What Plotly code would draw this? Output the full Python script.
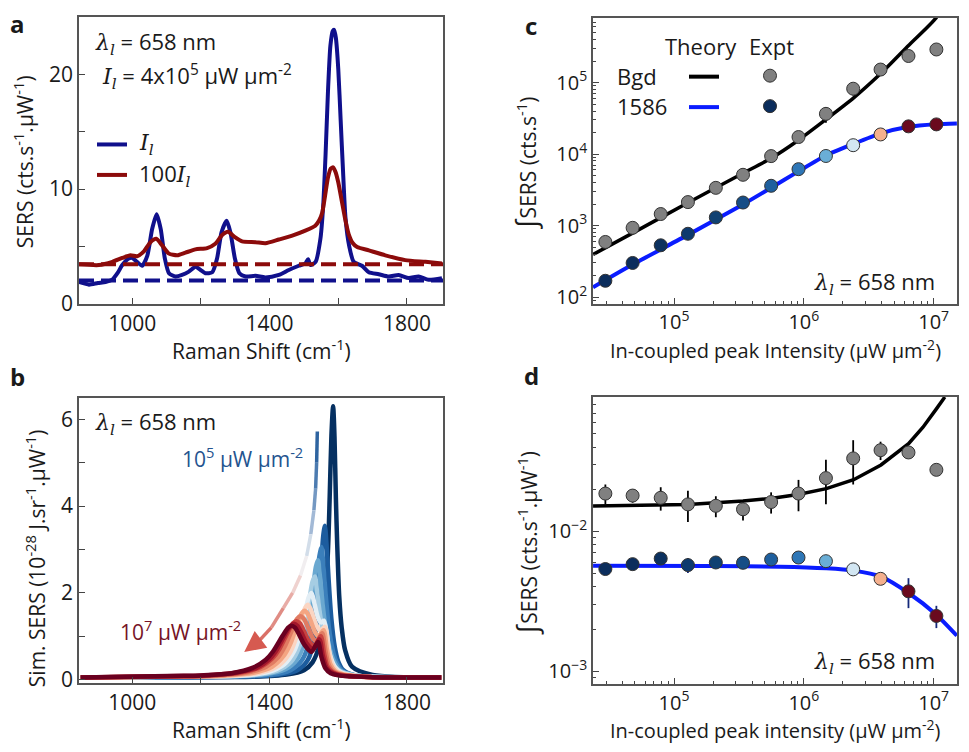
import plotly.graph_objects as go

# ---------------- data ----------------
# panel a: measured spectra
a_blue_x = [845, 874, 900, 922, 942, 958, 971, 990, 1000, 1014, 1029, 1044, 1058, 1071, 1083, 1095, 1107, 1126,
            1145, 1165, 1184, 1199, 1213, 1233, 1247, 1260, 1275, 1286, 1299, 1312, 1330, 1359, 1388, 1427, 1456,
            1485, 1504, 1512, 1519, 1534, 1548, 1556, 1563, 1570, 1577, 1584, 1588, 1593, 1600, 1607, 1614, 1621,
            1632, 1645, 1669, 1689, 1718, 1747, 1776, 1805, 1834, 1863, 1902]
a_blue_y = [1.89, 1.66, 1.8, 1.89, 2.1, 2.7, 3.37, 3.94, 3.99, 3.65, 3.31, 4.2, 6.51, 7.8, 6.51, 3.94, 2.66, 2.37,
            2.51, 2.8, 3.22, 2.94, 2.66, 2.74, 3.94, 6.22, 7.23, 6.22, 3.94, 2.66, 2.37, 2.43, 2.29, 2.51, 2.94,
            3.31, 3.51, 3.88, 3.37, 3.65, 5.66, 8.5, 13.0, 18.5, 22.5, 23.8, 23.9, 23.2, 20.5, 16.0, 11.5, 7.5,
            5.0, 3.65, 3.31, 2.74, 2.57, 2.37, 2.51, 2.23, 2.37, 2.08, 2.23]
a_red_x = [845, 903, 942, 971, 995, 1014, 1034, 1053, 1070, 1087, 1107, 1131, 1155, 1184, 1218, 1242, 1262, 1279,
           1299, 1320, 1359, 1388, 1427, 1466, 1504, 1533, 1545, 1553, 1561, 1570, 1578, 1585, 1592, 1600, 1610,
           1620, 1630, 1642, 1655, 1689, 1737, 1795, 1854, 1902]
a_red_y = [3.43, 3.37, 3.65, 3.99, 4.22, 4.14, 4.57, 5.37, 5.66, 5.09, 4.37, 4.22, 4.45, 4.74, 4.85, 5.23, 6.0, 6.28,
           5.8, 5.43, 5.37, 5.28, 5.6, 5.94, 6.37, 6.8, 7.3, 7.9, 9.3, 11.0, 11.8, 11.9, 11.5, 10.6, 9.0,
           7.4, 6.1, 5.3, 4.95, 4.65, 4.22, 3.8, 3.65, 3.51]
a_base_blue = 2.03
a_base_red = 3.43
a_xrange = [845, 1905]

# panel b: simulated spectra, low -> high intensity
b_x = [
    [850, 1150, 1350, 1450, 1500, 1525, 1545, 1560, 1570, 1575, 1580, 1585, 1589, 1593, 1597, 1603, 1610, 1620, 1640, 1700, 1900],
    [850, 1300, 1431, 1481, 1511, 1531, 1543, 1551, 1556, 1561, 1566, 1572, 1580, 1590, 1600, 1615, 1650, 1900],
    [850, 1251, 1401, 1461, 1496, 1516, 1529, 1539, 1545, 1551, 1557, 1564, 1572, 1582, 1594, 1610, 1650, 1900],
    [850, 1241, 1381, 1446, 1481, 1501, 1515, 1528, 1535, 1541, 1547, 1555, 1564, 1575, 1588, 1605, 1650, 1900],
    [850, 1202, 1352, 1422, 1462, 1487, 1502, 1517, 1525, 1532, 1538, 1546, 1555, 1566, 1580, 1600, 1650, 1900],
    [850, 1150, 1322, 1397, 1442, 1472, 1488, 1505, 1514, 1522, 1530, 1540, 1550, 1558, 1566, 1575, 1590, 1610, 1650, 1900],
    [850, 1150, 1302, 1377, 1427, 1457, 1474, 1493, 1504, 1512, 1520, 1530, 1540, 1548, 1561, 1571, 1581, 1596, 1620, 1700, 1900],
    [850, 1150, 1272, 1352, 1407, 1442, 1460, 1481, 1493, 1502, 1510, 1520, 1532, 1543, 1557, 1567, 1577, 1592, 1615, 1700, 1900],
    [850, 1150, 1250, 1330, 1390, 1425, 1444, 1467, 1480, 1490, 1500, 1512, 1525, 1537, 1553, 1563, 1573, 1588, 1612, 1700, 1900],
    [850, 1150, 1228, 1313, 1373, 1408, 1428, 1453, 1468, 1478, 1488, 1500, 1515, 1532, 1549, 1559, 1569, 1585, 1610, 1700, 1900],
    [850, 1150, 1211, 1301, 1363, 1399, 1419, 1445, 1461, 1471, 1481, 1493, 1508, 1527, 1545, 1555, 1566, 1582, 1605, 1700, 1900],
    [850, 1150, 1199, 1289, 1352, 1389, 1410, 1437, 1454, 1464, 1474, 1486, 1502, 1522, 1541, 1551, 1562, 1578, 1600, 1700, 1900],
]
b_y = [
    [0.05, 0.06, 0.07, 0.12, 0.22, 0.4, 0.8, 1.6, 2.97, 4.2, 5.61, 6.3, 5.6, 4.2, 3.1, 1.9, 1.2, 0.68, 0.3, 0.11, 0.05],
    [0.05, 0.07, 0.12, 0.22, 0.45, 0.98, 1.8, 2.72, 3.3, 3.55, 3.1, 2.3, 1.4, 0.75, 0.42, 0.22, 0.1, 0.05],
    [0.05, 0.07, 0.11, 0.22, 0.47, 0.9, 1.55, 2.37, 2.85, 3.06, 2.6, 1.9, 1.25, 0.75, 0.42, 0.22, 0.1, 0.05],
    [0.05, 0.08, 0.12, 0.24, 0.48, 0.85, 1.4, 2.21, 2.61, 2.75, 2.35, 1.7, 1.15, 0.72, 0.42, 0.22, 0.1, 0.05],
    [0.05, 0.08, 0.11, 0.21, 0.41, 0.77, 1.22, 1.91, 2.26, 2.38, 2.05, 1.55, 1.12, 0.72, 0.42, 0.22, 0.1, 0.05],
    [0.05, 0.075, 0.1, 0.18, 0.35, 0.67, 1.03, 1.61, 1.9, 2.0, 1.78, 1.45, 1.32, 1.36, 1.1, 0.6, 0.3, 0.16, 0.09, 0.05],
    [0.05, 0.075, 0.1, 0.17, 0.33, 0.59, 0.89, 1.39, 1.66, 1.73, 1.62, 1.38, 1.2, 1.13, 1.22, 0.75, 0.38, 0.2, 0.12, 0.06, 0.05],
    [0.05, 0.075, 0.1, 0.16, 0.3, 0.56, 0.82, 1.28, 1.52, 1.59, 1.53, 1.35, 1.1, 1.0, 1.14, 0.7, 0.36, 0.19, 0.12, 0.06, 0.05],
    [0.05, 0.075, 0.1, 0.16, 0.3, 0.52, 0.76, 1.18, 1.4, 1.46, 1.4, 1.2, 0.97, 0.88, 1.07, 0.65, 0.33, 0.18, 0.11, 0.06, 0.05],
    [0.05, 0.08, 0.1, 0.16, 0.29, 0.49, 0.7, 1.09, 1.3, 1.35, 1.3, 1.12, 0.88, 0.78, 1.0, 0.6, 0.3, 0.17, 0.11, 0.06, 0.05],
    [0.05, 0.085, 0.1, 0.16, 0.28, 0.47, 0.67, 1.04, 1.24, 1.29, 1.24, 1.08, 0.84, 0.71, 0.93, 0.55, 0.28, 0.16, 0.1, 0.06, 0.05],
    [0.05, 0.09, 0.1, 0.15, 0.28, 0.46, 0.65, 1.0, 1.2, 1.245, 1.2, 1.04, 0.8, 0.64, 0.87, 0.52, 0.27, 0.15, 0.1, 0.06, 0.05],
]
b_colors = ['#053061', '#1c5c9e', '#3b7fbb', '#6aa8d0', '#a6cde3', '#e3eef5',
            '#fbd5c2', '#f4a582', '#e07b62', '#c8423f', '#a3172c', '#6a0020']
b_arrow_x = [1539, 1537, 1534, 1529, 1520, 1508, 1490, 1467, 1440, 1405, 1370, 1345]
b_arrow_y = [5.72, 5.0, 4.4, 3.9, 3.35, 2.85, 2.4, 2.0, 1.65, 1.2, 0.9, 0.76]
b_arrow_colors = ['#2f64a0', '#4c7bb0', '#7498c2', '#a2b9d6', '#d2dde9', '#f1eef0',
                  '#efd2cf', '#e8aca6', '#e08c84', '#da7067', '#d65a50']
b_arrow_tip = (1326, 0.64)

# panels c, d: intensity sweep
intensity = [2.96e4, 4.8e4, 7.9e4, 1.28e5, 2.1e5, 3.4e5, 5.6e5, 9.1e5, 1.48e6, 2.4e6, 3.9e6, 6.4e6, 1.05e7]
pt_colors = ['#0b2d5c', '#0b2d5c', '#0c315f', '#0d3a6e', '#104172', '#164d86', '#1e5f9e', '#2e76b6',
             '#6aaed6', '#d2e6f2', '#f4b08e', '#6a0a1e', '#6a0a1e']
c_bgd = [590, 930, 1450, 2130, 3370, 5130, 9360, 17300, 36500, 82000, 152000, 235000, 290000]
c_bgd_err = [0, 0, 0, 200, 0, 0, 0, 2000, 9000, 16000, 15000, 12000, 0]
c_pk = [169, 300, 530, 768, 1300, 2100, 3600, 6150, 9400, 13300, 18800, 24400, 26000]
c_pk_err = [0, 0, 0, 0, 0, 0, 0, 0, 0, 0, 0, 2500, 2500]
c_th_x = [2.38e4, 4.83e4, 1.28e5, 3.4e5, 5.56e5, 9.02e5, 1.49e6, 2.42e6, 3.93e6, 6.41e6, 1.047e7, 1.15e7]
c_th_bgd = [394, 791, 2084, 5400, 8670, 15500, 30700, 61000, 134600, 330000, 807000, 1170000]
c_th_pk_x = [2.38e4, 4.83e4, 1.28e5, 3.4e5, 5.56e5, 9.02e5, 1.49e6, 2.42e6, 3.93e6, 6.41e6, 1.04e7, 1.51e7]
c_th_pk = [137, 287, 741, 1977, 3350, 5675, 9620, 13920, 19500, 24100, 26200, 26800]

d_bgd = [0.0186, 0.018, 0.01735, 0.01557, 0.0152, 0.01436, 0.01618, 0.0186, 0.024, 0.0332, 0.038, 0.0366, 0.0275]
d_bgd_err = [0.003, 0.002, 0.0033, 0.0039, 0.0026, 0.0024, 0.0028, 0.0047, 0.0084, 0.0116, 0.0057, 0.0037, 0.0014]
d_pk = [0.00537, 0.00582, 0.00638, 0.00573, 0.00598, 0.00595, 0.00628, 0.00649, 0.00611, 0.00534, 0.00457, 0.00372, 0.00248]
d_pk_err = [0.0002, 0.0003, 0.0004, 0.0007, 0.0004, 0.0003, 0.0004, 0.0004, 0.0005, 0.0002, 0.0004, 0.0009, 0.00045]
d_th_x = [2.38e4, 6.13e4, 1.28e5, 3.4e5, 5.56e5, 9.02e5, 1.49e6, 2.42e6, 3.93e6, 6.41e6, 8.28e6, 1.047e7, 1.22e7]
d_th_bgd = [0.01517, 0.01542, 0.01557, 0.01644, 0.01717, 0.01834, 0.02019, 0.02338, 0.02981, 0.04235, 0.05546, 0.0747, 0.0912]
d_th_pk_x = [2.38e4, 2.0e5, 6.52e5, 1.49e6, 2.42e6, 3.93e6, 6.41e6, 1.04e7, 1.51e7]
d_th_pk = [0.00567, 0.00564, 0.00558, 0.00543, 0.00523, 0.00474, 0.00362, 0.00255, 0.00179]

# ---------------- styling ----------------
W, H = 969, 752
FONT = 'Open Sans'
BLUE_A = '#10108c'
RED_A = '#8c0b0b'
TH_BLUE = '#0a1cff'


def px(X):
    return X / W


def py(Y):
    return 1 - Y / H


LAM = '<span style="font-family:DejaVu Serif"><i>λ</i><sub><i>l</i></sub></span>'
IL = '<span style="font-family:DejaVu Serif"><i>I</i><sub><i>l</i></sub></span>'

fig = go.Figure()

# ---- panel a ----
fig.add_trace(go.Scatter(x=a_blue_x, y=a_blue_y, mode='lines', xaxis='x', yaxis='y',
                         line=dict(color=BLUE_A, width=4, shape='spline', smoothing=0.6)))
fig.add_trace(go.Scatter(x=a_red_x, y=a_red_y, mode='lines', xaxis='x', yaxis='y',
                         line=dict(color=RED_A, width=4, shape='spline', smoothing=0.6)))
fig.add_trace(go.Scatter(x=a_xrange, y=[a_base_blue] * 2, mode='lines', xaxis='x', yaxis='y',
                         line=dict(color=BLUE_A, width=4, dash='15px,7px')))
fig.add_trace(go.Scatter(x=a_xrange, y=[a_base_red] * 2, mode='lines', xaxis='x', yaxis='y',
                         line=dict(color=RED_A, width=4, dash='15px,7px')))

# ---- panel b ----
for xs, ys, col in zip(b_x, b_y, b_colors):
    fig.add_trace(go.Scatter(x=xs, y=ys, mode='lines', xaxis='x2', yaxis='y2',
                             line=dict(color=col, width=4.5, shape='spline', smoothing=0.8)))
for i, col in enumerate(b_arrow_colors):
    fig.add_trace(go.Scatter(x=b_arrow_x[i:i + 2], y=b_arrow_y[i:i + 2], mode='lines', xaxis='x2', yaxis='y2',
                             line=dict(color=col, width=3.5)))

# ---- panel c ----
fig.add_trace(go.Scatter(x=c_th_x, y=c_th_bgd, mode='lines', xaxis='x3', yaxis='y3',
                         line=dict(color='black', width=3.5, shape='spline', smoothing=0.6)))
fig.add_trace(go.Scatter(x=c_th_pk_x, y=c_th_pk, mode='lines', xaxis='x3', yaxis='y3',
                         line=dict(color=TH_BLUE, width=4, shape='spline', smoothing=0.6)))
fig.add_trace(go.Scatter(x=intensity, y=c_bgd, mode='markers', xaxis='x3', yaxis='y3',
                         error_y=dict(type='data', array=c_bgd_err, color='black', thickness=1.8, width=0),
                         marker=dict(size=13, color='#808080', line=dict(color='#333333', width=1))))
fig.add_trace(go.Scatter(x=intensity, y=c_pk, mode='markers', xaxis='x3', yaxis='y3',
                         error_y=dict(type='data', array=c_pk_err, color='#14287a', thickness=1.8, width=0),
                         marker=dict(size=13, color=pt_colors, line=dict(color='#333333', width=1))))

# ---- panel d ----
fig.add_trace(go.Scatter(x=d_th_x, y=d_th_bgd, mode='lines', xaxis='x4', yaxis='y4',
                         line=dict(color='black', width=3.5)))
fig.add_trace(go.Scatter(x=d_th_pk_x, y=d_th_pk, mode='lines', xaxis='x4', yaxis='y4',
                         line=dict(color=TH_BLUE, width=4, shape='spline', smoothing=0.6)))
fig.add_trace(go.Scatter(x=intensity, y=d_bgd, mode='markers', xaxis='x4', yaxis='y4',
                         error_y=dict(type='data', array=d_bgd_err, color='black', thickness=1.8, width=0),
                         marker=dict(size=13, color='#808080', line=dict(color='#333333', width=1))))
fig.add_trace(go.Scatter(x=intensity, y=d_pk, mode='markers', xaxis='x4', yaxis='y4',
                         error_y=dict(type='data', array=d_pk_err, color='#14287a', thickness=1.8, width=0),
                         marker=dict(size=13, color=pt_colors, line=dict(color='#333333', width=1))))


def axis(**kw):
    base = dict(showline=True, linecolor='#555555', linewidth=1.5, mirror=True, ticks='inside',
                ticklen=6, tickwidth=1.2, tickcolor='#444444', showgrid=False, zeroline=False,
                tickfont=dict(family=FONT, size=21, color='#1a1a1a'), tickmode='array')
    base.update(kw)
    return base


def log_minor(lo, hi):
    vals = []
    for e in range(lo, hi):
        for m in range(2, 10):
            vals.append(m * 10.0 ** e)
    return vals


raman_ticks = [1000, 1200, 1400, 1600, 1800]
raman_text = ['1000', '', '1400', '', '1800']
small = dict(family=FONT, size=20, color='#1a1a1a')

xa_dom = [px(79), px(443)]
xc_dom = [px(593), px(957)]

fig.update_layout(
    width=W, height=H, margin=dict(l=0, r=0, t=0, b=0), showlegend=False,
    paper_bgcolor='white', plot_bgcolor='white', font=dict(family=FONT, color='#1a1a1a'),
    xaxis=axis(domain=xa_dom, anchor='y', range=[845, 1905], tickvals=raman_ticks, ticktext=raman_text),
    yaxis=axis(domain=[py(309), py(17)], anchor='x', range=[0, 25.05], tickvals=[0, 5, 10, 15, 20],
               ticktext=['0', '', '10', '', '20']),
    xaxis2=axis(domain=xa_dom, anchor='y2', range=[845, 1905], tickvals=raman_ticks, ticktext=raman_text),
    yaxis2=axis(domain=[py(695), py(405)], anchor='x2', range=[-0.075, 6.49], tickvals=[0, 1, 2, 3, 4, 5, 6],
                ticktext=['0', '', '2', '', '4', '', '6']),
    xaxis3=axis(domain=xc_dom, anchor='y3', type='log', range=[4.376, 7.18], tickvals=[1e5, 1e6, 1e7],
                ticktext=['10<sup>5</sup>', '10<sup>6</sup>', '10<sup>7</sup>'], tickfont=small,
                minor=dict(ticks='inside', ticklen=3, tickcolor='#444444', tickvals=log_minor(4, 8))),
    yaxis3=axis(domain=[py(309), py(18)], anchor='x3', type='log', range=[1.908, 5.907],
                tickvals=[1e2, 1e3, 1e4, 1e5],
                ticktext=['10<sup>2</sup>', '10<sup>3</sup>', '10<sup>4</sup>', '10<sup>5</sup>'], tickfont=small,
                minor=dict(ticks='inside', ticklen=3, tickcolor='#444444', tickvals=log_minor(1, 6))),
    xaxis4=axis(domain=xc_dom, anchor='y4', type='log', range=[4.376, 7.18], tickvals=[1e5, 1e6, 1e7],
                ticktext=['10<sup>5</sup>', '10<sup>6</sup>', '10<sup>7</sup>'], tickfont=small,
                minor=dict(ticks='inside', ticklen=3, tickcolor='#444444', tickvals=log_minor(4, 8))),
    yaxis4=axis(domain=[py(696), py(404)], anchor='x4', type='log', range=[-3.092, -1.04],
                tickvals=[1e-3, 1e-2], ticktext=['10<sup>−3</sup>', '10<sup>−2</sup>'], tickfont=small,
                minor=dict(ticks='inside', ticklen=3, tickcolor='#444444', tickvals=log_minor(-4, -1))),
)

ann = []


def note(X, Y, text, size=21, xanchor='center', yanchor='middle', angle=0, color='#1a1a1a', bold=False):
    if bold:
        text = '<b>' + text + '</b>'
    ann.append(dict(x=px(X), y=py(Y), xref='paper', yref='paper', text=text, showarrow=False,
                    xanchor=xanchor, yanchor=yanchor, textangle=angle,
                    font=dict(family=FONT, size=size, color=color)))


# panel letters
note(17, 24, 'a', size=24, bold=True)
note(17, 383, 'b', size=24, bold=True)
note(531, 26, 'c', size=24, bold=True)
note(531, 382, 'd', size=24, bold=True)

# panel a texts
note(93, 43, LAM + ' = 658 nm', size=22, xanchor='left')
note(100, 77, IL + ' = 4x10<sup>5</sup> μW μm<sup>-2</sup>', size=22, xanchor='left')
note(261, 356, 'Raman Shift (cm<sup>-1</sup>)')
note(23, 165, 'SERS (cts.s<sup>-1</sup>.μW<sup>-1</sup>)', angle=-90)
note(137, 147, IL, size=22, xanchor='left')
note(137, 178, '100' + IL, size=22, xanchor='left')

# panel b texts
note(93, 430, LAM + ' = 658 nm', size=22, xanchor='left')
note(180, 466, '10<sup>5</sup> μW μm<sup>-2</sup>', size=21, xanchor='left', color='#24548f')
note(118, 642, '10<sup>7</sup> μW μm<sup>-2</sup>', size=21, xanchor='left', color='#761426')
note(261, 741, 'Raman Shift (cm<sup>-1</sup>)')
note(35, 568, 'Sim. SERS (10<sup>-28</sup> J.sr<sup>-1</sup>.μW<sup>-1</sup>)', angle=-90)

# panel c texts
note(663, 47, 'Theory', size=22, xanchor='left')
note(747, 47, 'Expt', size=22, xanchor='left')
note(615, 77, 'Bgd', size=22, xanchor='left')
note(615, 108, '1586', size=22, xanchor='left')
note(937, 287, LAM + ' = 658 nm', size=22, xanchor='right')
note(775, 356, 'In-coupled peak Intensity (μW μm<sup>-2</sup>)', size=20)
note(525, 167, '<span style="font-size:28px">∫</span>SERS (cts.s<sup>-1</sup>)', angle=-90)

# panel d texts
note(937, 673, LAM + ' = 658 nm', size=22, xanchor='right')
note(775, 742, 'In-coupled peak intensity (μW μm<sup>-2</sup>)', size=20)
note(526, 553, '<span style="font-size:28px">∫</span>SERS (cts.s<sup>-1</sup>.μW<sup>-1</sup>)', angle=-90)

# arrow head in panel b
ann.append(dict(x=b_arrow_tip[0], y=b_arrow_tip[1], xref='x2', yref='y2', ax=b_arrow_x[-2], ay=b_arrow_y[-2],
                axref='x2', ayref='y2', text='', showarrow=True, arrowhead=2, arrowsize=1.2,
                arrowwidth=3.5, arrowcolor='#d65a50'))

shapes = []
# legend glyphs panel a
shapes.append(dict(type='line', xref='paper', yref='paper', x0=px(97), x1=px(127), y0=py(147), y1=py(147),
                   line=dict(color=BLUE_A, width=4)))
shapes.append(dict(type='line', xref='paper', yref='paper', x0=px(97), x1=px(127), y0=py(178), y1=py(178),
                   line=dict(color=RED_A, width=4)))
# legend glyphs panel c
shapes.append(dict(type='line', xref='paper', yref='paper', x0=px(689), x1=px(719), y0=py(78), y1=py(78),
                   line=dict(color='black', width=4)))
shapes.append(dict(type='line', xref='paper', yref='paper', x0=px(689), x1=px(719), y0=py(109), y1=py(109),
                   line=dict(color=TH_BLUE, width=4)))
for Y, col in [(77, '#808080'), (108, '#0b2d5c')]:
    shapes.append(dict(type='circle', xref='paper', yref='paper', xsizemode='pixel', ysizemode='pixel',
                       xanchor=px(770), yanchor=py(Y), x0=-6.5, x1=6.5, y0=-6.5, y1=6.5,
                       fillcolor=col, line=dict(color='#333333', width=1)))

fig.update_layout(annotations=ann, shapes=shapes)
fig.write_html('out.html')
